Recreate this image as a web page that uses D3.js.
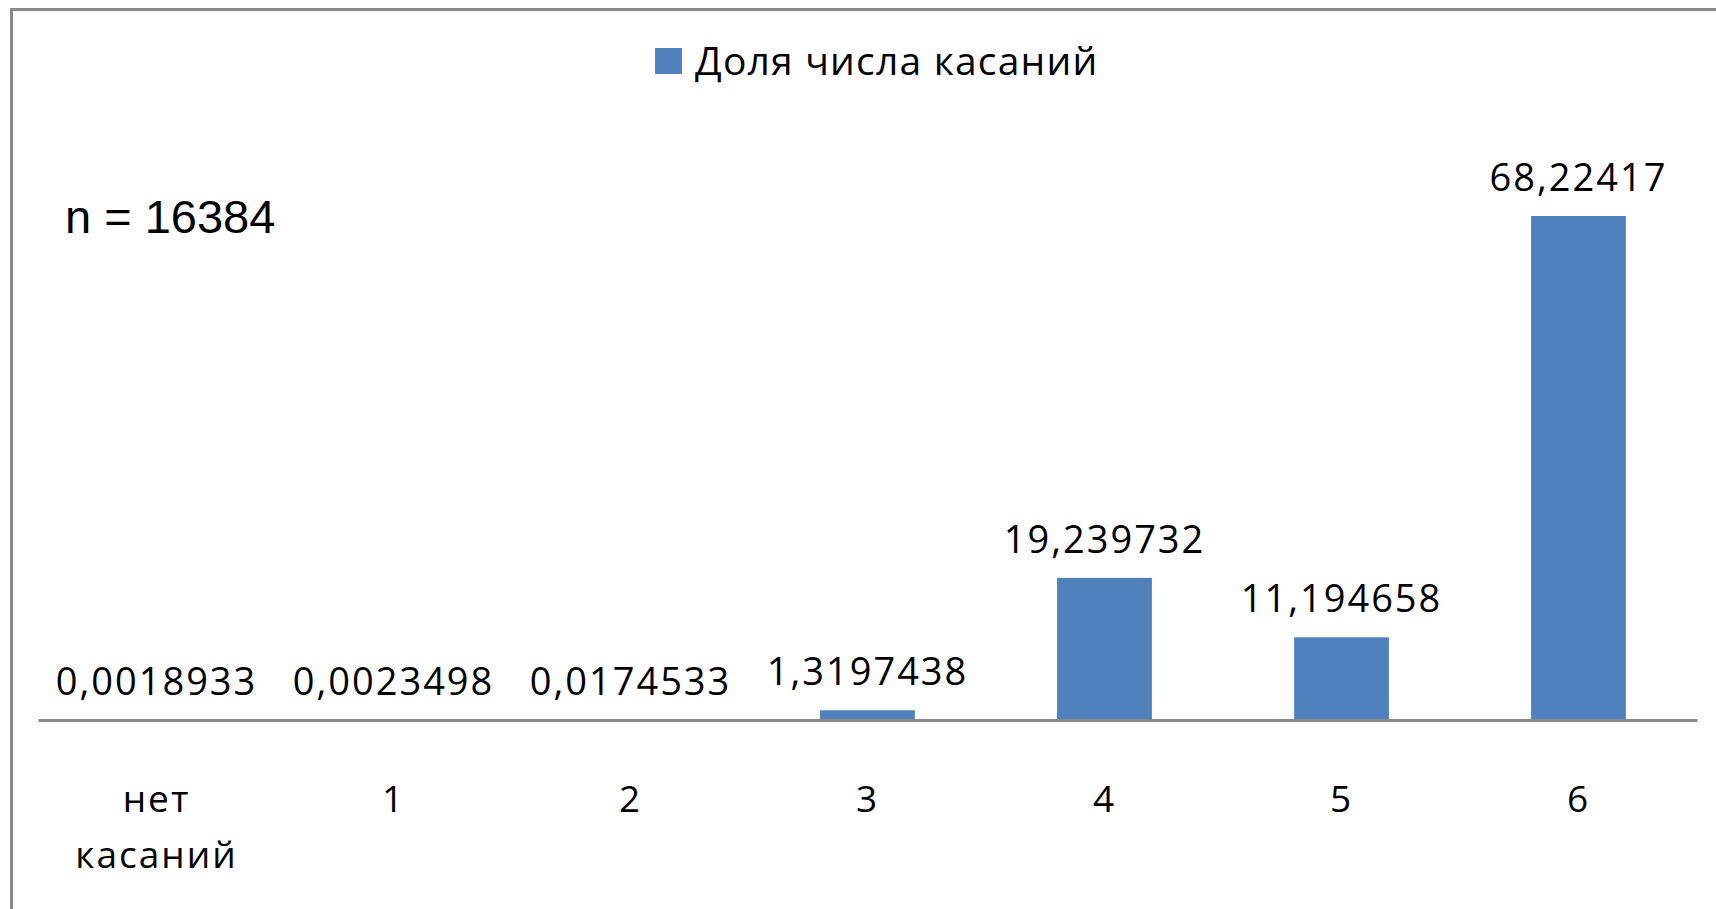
<!DOCTYPE html>
<html>
<head>
<meta charset="utf-8">
<script src="https://cdn.jsdelivr.net/npm/d3@7"></script>
<style>
  html, body { margin: 0; padding: 0; background: #fff; overflow: hidden; }
  .lbl { font-family: 'Open Sans', sans-serif; fill: #000; }
</style>
</head>
<body>
<div id="chart"></div>
<script>
const categories = ['нет касаний', '1', '2', '3', '4', '5', '6']
const values = [0.0018933, 0.0023498, 0.0174533, 1.3197438, 19.239732, 11.194658, 68.22417]
const valueLabels = ['0,0018933', '0,0023498', '0,0174533', '1,3197438', '19,239732', '11,194658', '68,22417']
const seriesName = 'Доля числа касаний'
const note = 'n = 16384'

const width = 1716
const height = 909
const barColor = '#4f81bd'

const svg = d3.select('#chart').append('svg').attr('width', width).attr('height', height)

// outer chart border (cut off on the right and bottom in the original)
svg.append('rect')
  .attr('x', 11.5).attr('y', 9.5)
  .attr('width', 1800).attr('height', 1000)
  .attr('fill', 'none').attr('stroke', '#8a8a8a').attr('stroke-width', 3)

const x = d3.scaleBand()
  .domain(categories)
  .range([38, 1697])
  .paddingInner(0.6)
  .paddingOuter(0.3)

const y = d3.scaleLinear().domain([0, 80]).range([720, 129])

svg.append('g')
  .selectAll('rect')
  .data(values)
  .join('rect')
  .attr('x', (d, i) => x(categories[i]))
  .attr('y', (d) => y(d))
  .attr('width', x.bandwidth())
  .attr('height', (d) => y(0) - y(d))
  .attr('fill', barColor)

const axisG = svg.append('g')
  .attr('transform', `translate(0,${y(0)})`)
  .call(d3.axisBottom(x).tickSize(0).tickSizeOuter(0).tickPadding(0))

axisG.select('.domain').attr('stroke', '#8a8a8a').attr('stroke-width', 3)

axisG.selectAll('.tick text')
  .attr('class', 'lbl')
  .attr('font-size', 37)
  .attr('letter-spacing', 2)
  .attr('dy', null)
  .attr('y', 92)
  .each(function (d) {
    const t = d3.select(this)
    const words = d.split(' ')
    t.text(null)
    words.forEach((w, i) => {
      t.append('tspan').attr('x', 0).attr('y', 92 + i * 56).text(w)
    })
  })

svg.append('g')
  .selectAll('text')
  .data(values)
  .join('text')
  .attr('class', 'lbl')
  .attr('font-size', 38)
  .attr('letter-spacing', 2)
  .attr('text-anchor', 'middle')
  .attr('x', (d, i) => x(categories[i]) + x.bandwidth() / 2)
  .attr('y', (d) => y(d) - 25)
  .text((d, i) => valueLabels[i])

// legend
const legend = svg.append('g')
legend.append('rect')
  .attr('x', 655).attr('y', 48).attr('width', 27).attr('height', 26)
  .attr('fill', barColor)
legend.append('text')
  .attr('class', 'lbl')
  .attr('x', 695).attr('y', 75)
  .attr('font-size', 39)
  .attr('letter-spacing', 1.2)
  .text(seriesName)

svg.append('text')
  .attr('x', 65).attr('y', 233)
  .attr('font-family', "'Liberation Sans', Arial, sans-serif")
  .attr('font-size', 47)
  .text(note)
</script>
</body>
</html>
